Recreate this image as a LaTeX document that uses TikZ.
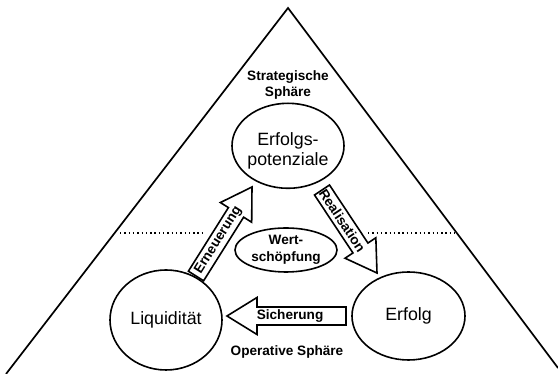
\documentclass[tikz,border=0pt]{standalone}
\usepackage{fontspec}
\setmainfont{Liberation Sans}
\usetikzlibrary{calc,shapes.geometric}
\tikzset{
  outl/.style={line width=1.7pt, line join=miter},
  ell/.style={ellipse, draw, line width=1.6pt, inner sep=0pt},
  bigtxt/.style={font=\fontsize{17.8}{20}\selectfont, align=center, inner sep=0pt},
  boldtxt/.style={font=\bfseries\fontsize{13.6}{16.5}\selectfont, align=center, inner sep=0pt},
  barrow/.style={draw, fill=white, line width=1.6pt, line join=miter},
  dotline/.style={line width=1.4pt, dash pattern=on 1.4pt off 2.9pt},
}
\newcommand\blockarr[6]{%
  \coordinate (#1h) at ($(#2)!30pt!(#1)$);
  \draw[barrow] ($(#1)!9pt!90:(#2)$) -- ($(#1h)!9pt!-90:(#1)$) -- ($(#1h)!18.5pt!-90:(#1)$) -- (#2)
     -- ($(#1h)!18.5pt!90:(#1)$) -- ($(#1h)!9pt!90:(#1)$) -- ($(#1)!9pt!-90:(#2)$) -- cycle;
  \node[boldtxt, rotate=#5] (#6) at ($(#1)!#4!(#2)$) {#3};
}
\begin{document}
\begin{tikzpicture}[x=1pt,y=1pt]
\useasboundingbox (0,0) rectangle (558,374);
% triangle
\coordinate (apex) at (288,366);
\coordinate (bl) at (6,0);
\coordinate (br) at (558,6);
\draw[outl] (bl) -- (apex) -- (br);
% dotted separators
\coordinate (dl1) at (120,141);
\coordinate (dl2) at (202,141);
\coordinate (dr1) at (368,141);
\coordinate (dr2) at (455,141);
\draw[dotline] (dl1) -- (dl2);
\draw[dotline] (dr1) -- (dr2);
% sphere labels
\node[boldtxt, font=\bfseries\fontsize{13.6}{16}\selectfont] (strat) at (288,288.8) {Strategische\\Sphäre};
\node[boldtxt] (oper) at (287,22.5) {Operative Sphäre};
% ellipses
\node[ell, minimum width=112pt, minimum height=85pt] (pot) at (288,228.2) {};
\node[bigtxt] (pottxt) at (288,222.6) {Erfolgs-\\potenziale};
\node[ell, minimum width=112pt, minimum height=100pt, bigtxt] (liq) at (166,54) {Liquidität};
\node[ell, minimum width=113pt, minimum height=88pt, bigtxt] (erf) at (408.5,58) {Erfolg};
\node[ell, minimum width=102pt, minimum height=44pt, boldtxt] (wert) at (286,124) {Wert-\\schöpfung};
% block arrows
\coordinate (eT) at (196,98);
\coordinate (eP) at (252,187);
\coordinate (rT) at (322,184);
\coordinate (rP) at (377,101);
\coordinate (sT) at (346,58);
\coordinate (sP) at (227,58);
\blockarr{eT}{eP}{Erneuerung}{0.40}{57.8}{ern}
\blockarr{rT}{rP}{Realisation}{0.37}{-56.5}{real}
\blockarr{sT}{sP}{Sicherung}{0.47}{0}{sich}
\end{tikzpicture}
\end{document}
